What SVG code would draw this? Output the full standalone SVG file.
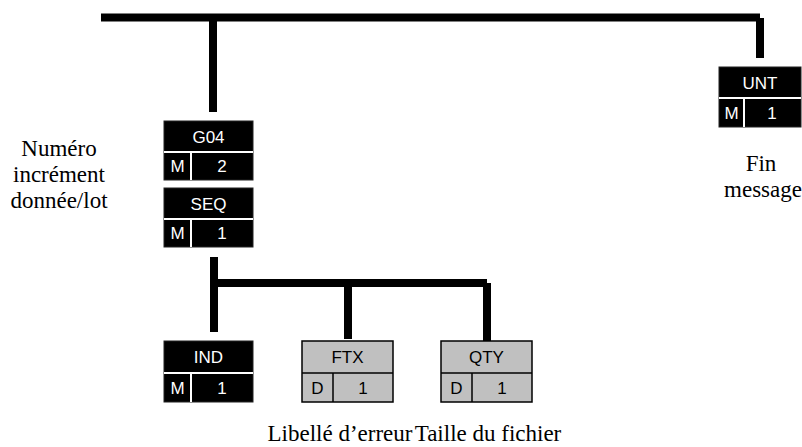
<svg xmlns="http://www.w3.org/2000/svg" width="802" height="447" viewBox="0 0 802 447">
<style>
.conn{stroke:#000;stroke-width:8;fill:none}
.bk{fill:#000;stroke:#222;stroke-width:1}
.bkl{stroke:#fff;stroke-width:2}
.gr{fill:#c0c0c0;stroke:#000;stroke-width:1.5}
.grl{stroke:#000;stroke-width:1.5}
.tw{font-family:"Liberation Sans",Arial,sans-serif;font-size:17px;fill:#fff;text-anchor:middle}
.tb{font-family:"Liberation Sans",Arial,sans-serif;font-size:17px;fill:#000;text-anchor:middle}
.lab{font-family:"Liberation Serif","Times New Roman",serif;font-size:23px;fill:#000;text-anchor:middle}
</style>
<rect width="802" height="447" fill="#fff"/>
<g id="connectors">
<line class="conn" x1="101" y1="17.5" x2="760" y2="17.5"/>
<line class="conn" x1="760" y1="18" x2="760" y2="58"/>
<line class="conn" x1="213" y1="21" x2="213" y2="112"/>
<line class="conn" x1="214" y1="257" x2="214" y2="332"/>
<line class="conn" x1="218" y1="283" x2="487" y2="283"/>
<line class="conn" x1="348" y1="287" x2="348" y2="339"/>
<line class="conn" x1="487" y1="283" x2="487" y2="341"/>
</g>
<g id="G04">
<rect class="bk" x="164" y="121" width="89" height="59"/>
<line class="bkl" x1="164" y1="152" x2="253" y2="152"/>
<line class="bkl" x1="191" y1="152" x2="191" y2="180"/>
<text class="tw" x="208.5" y="143">G04</text>
<text class="tw" x="177.5" y="172">M</text>
<text class="tw" x="222" y="172">2</text>
</g>
<g id="SEQ">
<rect class="bk" x="164" y="188" width="89" height="59"/>
<line class="bkl" x1="164" y1="219" x2="253" y2="219"/>
<line class="bkl" x1="191" y1="219" x2="191" y2="247"/>
<text class="tw" x="208.5" y="210">SEQ</text>
<text class="tw" x="177.5" y="239">M</text>
<text class="tw" x="222" y="239">1</text>
</g>
<g id="UNT">
<rect class="bk" x="719" y="67" width="82" height="60"/>
<line class="bkl" x1="719" y1="98" x2="801" y2="98"/>
<line class="bkl" x1="744" y1="98" x2="744" y2="127"/>
<text class="tw" x="760" y="89">UNT</text>
<text class="tw" x="731.5" y="119">M</text>
<text class="tw" x="772" y="119">1</text>
</g>
<g id="IND">
<rect class="bk" x="164" y="341" width="89" height="61"/>
<line class="bkl" x1="164" y1="373" x2="253" y2="373"/>
<line class="bkl" x1="191" y1="373" x2="191" y2="402"/>
<text class="tw" x="208.5" y="363">IND</text>
<text class="tw" x="177.5" y="394">M</text>
<text class="tw" x="222" y="394">1</text>
</g>
<g id="FTX">
<rect class="gr" x="302" y="341" width="91" height="61"/>
<line class="grl" x1="302" y1="373" x2="393" y2="373"/>
<line class="grl" x1="333" y1="373" x2="333" y2="402"/>
<text class="tb" x="347.5" y="363">FTX</text>
<text class="tb" x="317.5" y="394">D</text>
<text class="tb" x="363" y="394">1</text>
</g>
<g id="QTY">
<rect class="gr" x="441" y="341" width="91" height="61"/>
<line class="grl" x1="441" y1="373" x2="532" y2="373"/>
<line class="grl" x1="472" y1="373" x2="472" y2="402"/>
<text class="tb" x="486.5" y="363">QTY</text>
<text class="tb" x="456.5" y="394">D</text>
<text class="tb" x="502" y="394">1</text>
</g>
<g id="labels">
<text class="lab" x="59" y="156">Numéro</text>
<text class="lab" x="59" y="182">incrément</text>
<text class="lab" x="59" y="208">donnée/lot</text>
<text class="lab" x="761" y="171">Fin</text>
<text class="lab" x="763" y="197">message</text>
<text class="lab" x="340" y="441">Libellé d’erreur</text>
<text class="lab" x="488" y="441">Taille du fichier</text>
</g>
</svg>
